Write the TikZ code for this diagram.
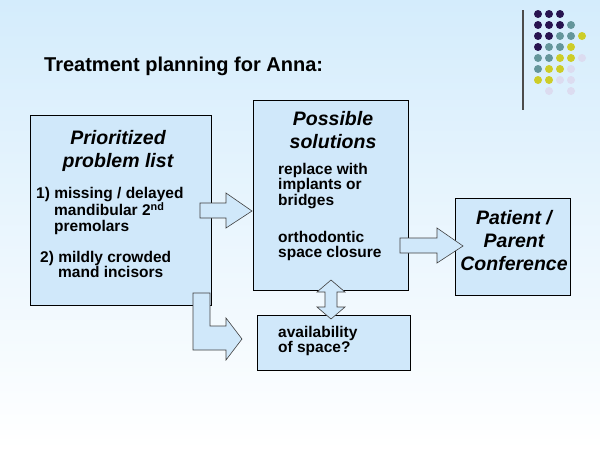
\documentclass[tikz,border=0pt]{standalone}
\usepackage{fontspec}
\setmainfont{Liberation Sans}
\begin{document}
\begin{tikzpicture}[x=1pt,y=-1pt,
  box/.style={draw=black,fill=boxc,line width=0.6pt},
  arr/.style={draw=black!75,fill=boxc,line width=0.6pt},
  hd/.style={font=\bfseries\itshape\fontsize{19.5}{23}\selectfont,align=center},
  bd/.style={font=\bfseries\fontsize{15.5}{15.5}\selectfont,align=left},
  dot/.style={circle,inner sep=0pt,minimum size=8pt}]
\definecolor{bgt}{RGB}{212,236,252}\definecolor{boxc}{RGB}{208,232,250}
\useasboundingbox (0,0) rectangle (600,450);
\shade[top color=bgt,bottom color=white] (0,0) rectangle (600,450);
% decoration
\draw[line width=1.2pt,black!70] (523,10) -- (523,110);
\definecolor{P}{RGB}{40,20,80}\definecolor{T}{RGB}{100,150,155}\definecolor{Y}{RGB}{205,205,40}\definecolor{L}{RGB}{220,220,240}
\foreach \r/\row in {0/{P,P,P},1/{P,P,P,T},2/{P,P,T,T,Y},3/{P,T,T,Y},4/{T,T,Y,Y,L},5/{T,Y,Y,L},6/{Y,Y,L,L}}{
  \foreach \c [count=\i from 0] in \row {\node[dot,fill=\c] (d\r\i) at (538+11*\i,14+11*\r) {};}}
\node[dot,fill=L] (d71) at (549,91) {};\node[dot,fill=L] (d73) at (571,91) {};
\node[font=\bfseries\fontsize{20}{22}\selectfont,anchor=west,inner sep=0pt] (title) at (44,66) {Treatment planning for Anna:};
% boxes
\draw[box] (30,115) rectangle (211,305);
\draw[box] (253,100) rectangle (408,290);
\draw[box] (455,198) rectangle (570,295);
\draw[box] (257,315) rectangle (410,370);
% arrows
\draw[arr] (200,203) -- (226,203) -- (226,193) -- (252,211) -- (226,228) -- (226,218) -- (200,218) -- cycle;
\draw[arr] (400,238) -- (437,238) -- (437,228) -- (463,246) -- (437,263) -- (437,253) -- (400,253) -- cycle;
\draw[arr] (193,293) -- (210,293) -- (210,326) -- (226,326) -- (226,318) -- (242,339) -- (226,360) -- (226,350) -- (193,350) -- cycle;
\draw[arr] (331,280) -- (345,292) -- (337,292) -- (337,307) -- (345,307) -- (331,319) -- (317,307) -- (325,307) -- (325,292) -- (317,292) -- cycle;
% texts
\node[hd] (h1) at (118,151) {Prioritized\\problem list};
\node[bd,anchor=north west,inner sep=0pt] (t1) at (36,187) {1) missing / delayed\\\hspace*{18pt}mandibular 2\textsuperscript{nd}\\\hspace*{18pt}premolars};
\node[bd,anchor=north west,inner sep=0pt] (t2) at (40,251) {2) mildly crowded\\\hspace*{18pt}mand incisors};
\node[hd] (h2) at (333,130) {Possible\\solutions};
\node[bd,anchor=north west,inner sep=0pt] (t3) at (278,163) {replace with\\implants or\\bridges};
\node[bd,anchor=north west,inner sep=0pt] (t4) at (278,231) {orthodontic\\space closure};
\node[hd] (h3) at (514,241) {Patient /\\Parent\\Conference};
\node[bd,anchor=north west,inner sep=0pt] (t5) at (278,326) {availability\\of space?};
\end{tikzpicture}
\end{document}
